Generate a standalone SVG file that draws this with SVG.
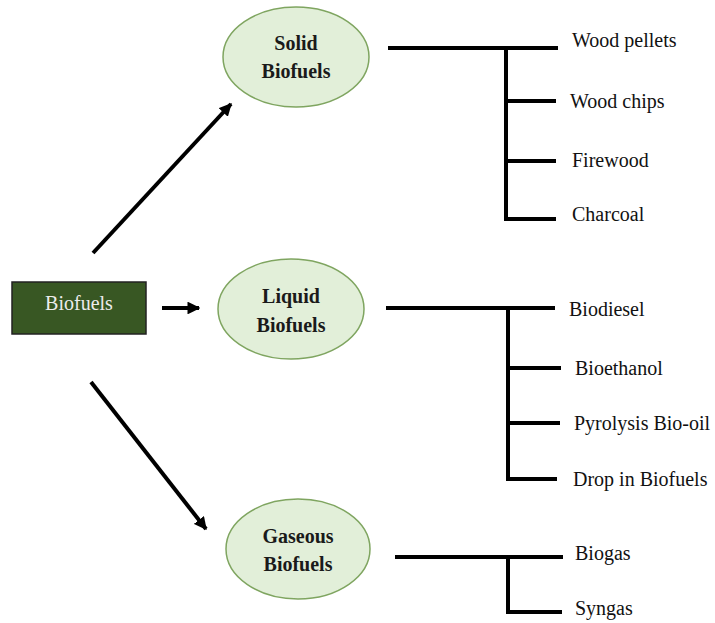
<svg xmlns="http://www.w3.org/2000/svg" width="715" height="623" viewBox="0 0 715 623">
<defs>
<marker id="ah" viewBox="0 0 10 10" refX="9" refY="5" markerWidth="3.2" markerHeight="3.2" orient="auto" markerUnits="strokeWidth">
<path d="M0,0 L10,5 L0,10 z" fill="#000"/>
</marker>
<style>
.ell{fill:#e2efd9;stroke:#7fa560;stroke-width:1.5}
.lbl{font-family:"Liberation Serif","Times New Roman",serif;font-size:20px;font-weight:bold;fill:#1a1a1a;text-anchor:middle}
.leaf{font-family:"Liberation Serif","Times New Roman",serif;font-size:20px;fill:#111}
.tree{stroke:#000;stroke-width:4;fill:none}
.arr{stroke:#000;stroke-width:4;fill:none;marker-end:url(#ah)}
</style>
</defs>
<rect width="715" height="623" fill="#fff"/>
<g id="biofuels">
<rect x="12" y="282" width="134" height="52" fill="#385723" stroke="#222" stroke-width="1.5"/>
<text x="79" y="310" style="font-family:'Liberation Serif','Times New Roman',serif;font-size:20px;fill:#ececec;text-anchor:middle">Biofuels</text>
</g>
<g id="solid">
<ellipse class="ell" cx="296" cy="57" rx="73" ry="50"/>
<text class="lbl" x="296" y="50">Solid</text>
<text class="lbl" x="296" y="78">Biofuels</text>
</g>
<g id="liquid">
<ellipse class="ell" cx="291" cy="309" rx="73" ry="50"/>
<text class="lbl" x="291" y="303">Liquid</text>
<text class="lbl" x="291" y="332">Biofuels</text>
</g>
<g id="gaseous">
<ellipse class="ell" cx="298" cy="549" rx="72" ry="50"/>
<text class="lbl" x="298" y="543">Gaseous</text>
<text class="lbl" x="298" y="571">Biofuels</text>
</g>
<g id="leaves">
<text class="leaf" x="572" y="47">Wood pellets</text>
<text class="leaf" x="570" y="108">Wood chips</text>
<text class="leaf" x="572" y="167">Firewood</text>
<text class="leaf" x="572" y="221">Charcoal</text>
<text class="leaf" x="569" y="316">Biodiesel</text>
<text class="leaf" x="575" y="375">Bioethanol</text>
<text class="leaf" x="574" y="430">Pyrolysis Bio-oil</text>
<text class="leaf" x="573" y="486">Drop in Biofuels</text>
<text class="leaf" x="575" y="560">Biogas</text>
<text class="leaf" x="575" y="615">Syngas</text>
</g>
<g id="connectors">
<line class="arr" x1="93" y1="253" x2="231" y2="104"/>
<line class="arr" x1="162" y1="308" x2="199" y2="308"/>
<line class="arr" x1="91" y1="382" x2="206" y2="529"/>
<path class="tree" d="M388,48 H558 M506,48 V219 H556 M506,101 H556 M506,161 H556"/>
<path class="tree" d="M386,308 H555 M508,308 V479 H557 M508,368 H561 M508,423 H560"/>
<path class="tree" d="M395,557 H563 M508,557 V612 H562"/>
</g>
</svg>
